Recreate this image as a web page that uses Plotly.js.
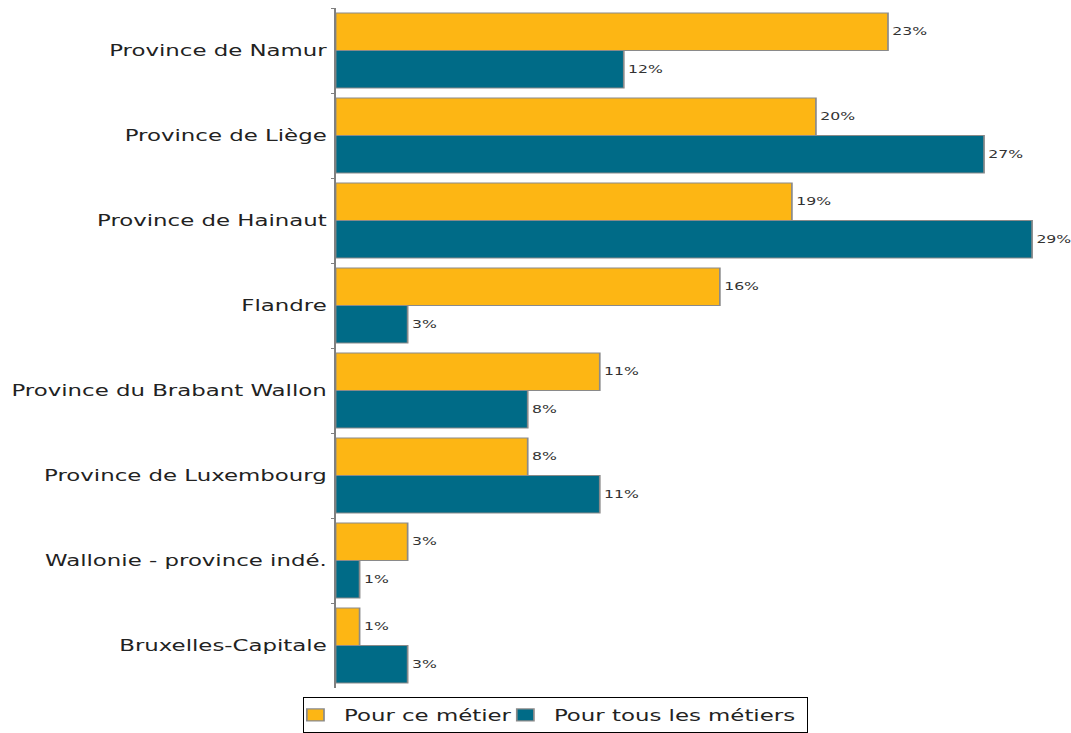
<!DOCTYPE html>
<html><head><meta charset="utf-8">
<script src="https://cdn.plot.ly/plotly-3.0.1.min.js"></script>
<style>
html,body{margin:0;background:#fff;overflow:hidden}
#chart{width:750px;height:733px;transform:scaleX(1.428);transform-origin:0 0}
</style>
</head><body><div id="chart"></div>
<script>
const categories = ["Province de Namur","Province de Liège","Province de Hainaut","Flandre","Province du Brabant Wallon","Province de Luxembourg","Wallonie - province indé.","Bruxelles-Capitale"];
const seriesNames = ["Pour ce métier","Pour tous les métiers"];
const metierValues = [23,20,19,16,11,8,3,1];
const tousValues = [12,27,29,3,8,11,1,3];

const colors = ["#FDB614","#006B87"];
const legendWidths = [114,172];
const traces = [metierValues, tousValues].map((vals,i)=>({
  type:'bar', orientation:'h', name:seriesNames[i],
  y:categories, x:vals, legendwidth:legendWidths[i],
  marker:{color:colors[i], line:{color:'#8a8a8a', width:1.2}},
  text: vals.map(v=>v+'%'), textposition:'outside', cliponaxis:false,
  textfont:{family:'DejaVu Sans', size:11, color:'#333'},
  constraintext:'none', hoverinfo:'skip'
}));

const layout = {
  width:750, height:733,
  margin:{l:235.3, r:18.2, t:8, b:45, autoexpand:false},
  paper_bgcolor:'#fff', plot_bgcolor:'#fff',
  barmode:'group', bargap:0.118, bargroupgap:0,
  font:{family:'DejaVu Sans', color:'#222'},
  xaxis:{range:[0,29.55], showticklabels:false, showgrid:false, zeroline:false, showline:false, fixedrange:true},
  yaxis:{autorange:'reversed', showline:true, linecolor:'#808080', linewidth:1, showgrid:false, zeroline:false,
         ticks:'outside', tickson:'boundaries', ticklen:2, tickcolor:'#808080',
         ticklabelstandoff:2, tickfont:{family:'DejaVu Sans', size:16, color:'#222'}},
  showlegend:true,
  legend:{orientation:'h', x:-0.0465, xanchor:'left', y:-0.0132, yanchor:'top',
          bordercolor:'#000', borderwidth:1, bgcolor:'#fff', indentation:-12,
          font:{family:'DejaVu Sans', size:16, color:'#222'}, itemwidth:30, tracegroupgap:0}
};
Plotly.newPlot('chart', traces, layout, {displayModeBar:false, staticPlot:true});
</script></body></html>
